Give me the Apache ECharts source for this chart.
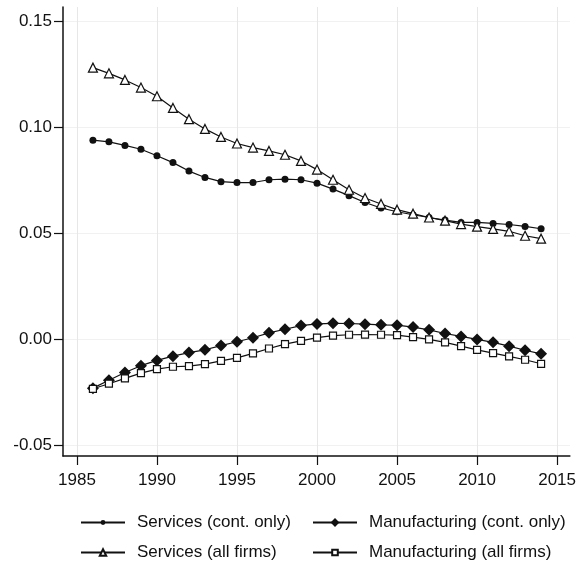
<!DOCTYPE html>
<html>
<head>
<meta charset="utf-8">
<script src="https://cdn.jsdelivr.net/npm/echarts@6/dist/echarts.min.js"></script>
<style>
  html, body { margin: 0; padding: 0; background: #fff; }
  #chart { width: 579px; height: 563px; }
</style>
</head>
<body>
<div id="chart"></div>
<script>
const years = [1986, 1987, 1988, 1989, 1990, 1991, 1992, 1993, 1994, 1995, 1996, 1997, 1998, 1999, 2000,
  2001, 2002, 2003, 2004, 2005, 2006, 2007, 2008, 2009, 2010, 2011, 2012, 2013, 2014];

const servicesCont = [0.0938, 0.0930, 0.0913, 0.0895, 0.0864, 0.0832, 0.0792, 0.0762, 0.0742, 0.0738,
  0.0738, 0.0751, 0.0754, 0.0751, 0.0735, 0.0707, 0.0676, 0.0644, 0.0618, 0.0600, 0.0586, 0.0573,
  0.0561, 0.0550, 0.0550, 0.0545, 0.0540, 0.0531, 0.0520];

const servicesAll = [0.1280, 0.1253, 0.1222, 0.1186, 0.1145, 0.1090, 0.1037, 0.0991, 0.0953, 0.0922,
  0.0903, 0.0887, 0.0869, 0.0840, 0.0799, 0.0751, 0.0704, 0.0665, 0.0637, 0.0610, 0.0591, 0.0573,
  0.0558, 0.0542, 0.0530, 0.0519, 0.0508, 0.0487, 0.0473];

const manufCont = [-0.0232, -0.0195, -0.0158, -0.0126, -0.0101, -0.0081, -0.0064, -0.0051, -0.0031, -0.0013,
  0.0006, 0.0029, 0.0046, 0.0063, 0.0071, 0.0074, 0.0073, 0.0070, 0.0067, 0.0065, 0.0056, 0.0043,
  0.0026, 0.0012, -0.0002, -0.0016, -0.0034, -0.0053, -0.0070];

const manufAll = [-0.0235, -0.0211, -0.0186, -0.0161, -0.0142, -0.0131, -0.0128, -0.0119, -0.0103, -0.0089,
  -0.0068, -0.0045, -0.0024, -0.0009, 0.0006, 0.0016, 0.0020, 0.0021, 0.0020, 0.0018, 0.0009, -0.0002,
  -0.0016, -0.0034, -0.0051, -0.0067, -0.0082, -0.0098, -0.0117];

const xTicks = [1985, 1990, 1995, 2000, 2005, 2010, 2015];
const yTicks = [-0.05, 0, 0.05, 0.10, 0.15];

const FONT = 'Liberation Sans';
const INK = '#111';

const chart = echarts.init(document.getElementById('chart'));

function pairs(vals) {
  return years.map((y, i) => [y, vals[i]]);
}

function lineSeries(name, vals, symbol, size, hollow) {
  return {
    name: name,
    type: 'line',
    data: pairs(vals),
    symbol: symbol,
    symbolSize: size,
    showAllSymbol: true,
    animation: false,
    lineStyle: { color: INK, width: 1.2 },
    itemStyle: hollow
      ? { color: '#fff', borderColor: INK, borderWidth: 1.2 }
      : { color: INK, borderColor: INK, borderWidth: 0 },
    emphasis: { disabled: true }
  };
}

// one legend per entry so the 2x2 block sits where the reference has it
function legendAt(name, left, top, markH) {
  return {
    data: [name],
    left: left,
    top: top,
    padding: 0,
    itemWidth: 44,
    itemHeight: markH,
    selectedMode: false,
    textStyle: { fontFamily: FONT, fontSize: 17, color: INK, padding: [0, 0, 0, 7] }
  };
}

const options = {
  backgroundColor: '#fff',
  animation: false,
  grid: { left: 63, right: 7, top: 7, bottom: 107, containLabel: false },
  legend: [
    legendAt('Services (cont. only)', 80, 514, 6),
    legendAt('Manufacturing (cont. only)', 312, 514, 11),
    legendAt('Services (all firms)', 80, 544, 8),
    legendAt('Manufacturing (all firms)', 312, 544, 7)
  ],
  xAxis: {
    type: 'value',
    min: 1984.13,
    max: 2015.8,
    axisLine: { show: true, onZero: false, lineStyle: { color: INK, width: 1.5 } },
    axisTick: { show: true, length: 9, customValues: xTicks, lineStyle: { color: INK, width: 1.2 } },
    axisLabel: {
      customValues: xTicks,
      margin: 16,
      fontFamily: FONT, fontSize: 17, color: INK,
      formatter: v => String(v)
    },
    splitLine: { show: true, lineStyle: { color: '#e3e8e8', width: 1 } }
  },
  yAxis: {
    type: 'value',
    min: -0.0552,
    max: 0.1566,
    axisLine: { show: true, onZero: false, lineStyle: { color: INK, width: 1.5 } },
    axisTick: { show: true, length: 9, customValues: yTicks, lineStyle: { color: INK, width: 1.2 } },
    axisLabel: {
      customValues: yTicks,
      margin: 11,
      fontFamily: FONT, fontSize: 17, color: INK,
      formatter: v => v.toFixed(2)
    },
    splitLine: { show: true, lineStyle: { color: '#eef2f2', width: 1 } }
  },
  series: [
    lineSeries('Services (cont. only)', servicesCont, 'circle', 7, false),
    lineSeries('Services (all firms)', servicesAll, 'triangle', 9, true),
    lineSeries('Manufacturing (cont. only)', manufCont, 'diamond', 12, false),
    lineSeries('Manufacturing (all firms)', manufAll, 'rect', 7, true)
  ]
};

chart.setOption(options);
</script>
</body>
</html>
